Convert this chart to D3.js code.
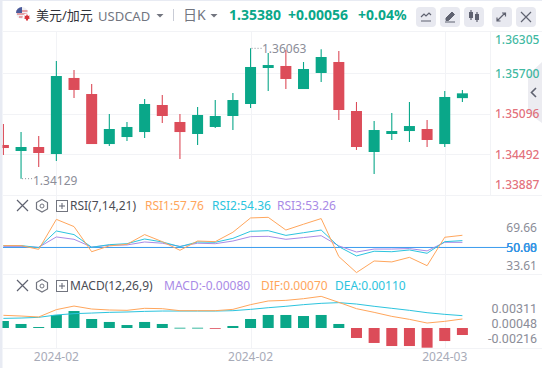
<!DOCTYPE html>
<html>
<head>
<meta charset="utf-8">
<script src="https://cdn.jsdelivr.net/npm/d3@7"></script>
<style>
html, body { margin: 0; padding: 0; background: #fff; overflow: hidden; }
text { font-family: "Noto Sans", "Noto Sans CJK SC", sans-serif; }
.grid { stroke: #f2f3f6; stroke-width: 1; shape-rendering: crispEdges; }
</style>
</head>
<body>
<script>
const opens = [1.34629,1.34540,1.34599,1.34495,1.35623,1.35385,1.34643,1.34747,1.34821,1.35222,1.34970,1.34792,1.34896,1.35059,1.35237,1.35771,1.35801,1.35459,1.35697,1.35860,1.35133,1.34525,1.34792,1.34836,1.34866,1.34643,1.35324];
const closes = [1.34584,1.34599,1.34510,1.35652,1.35445,1.34643,1.34866,1.34896,1.35237,1.35059,1.34821,1.35074,1.35059,1.35296,1.35786,1.35815,1.35608,1.35756,1.35934,1.35148,1.34599,1.34851,1.34836,1.34910,1.34703,1.35341,1.35395];
const highs = [1.34940,1.34821,1.34762,1.35875,1.35741,1.35534,1.35089,1.34970,1.35311,1.35370,1.35089,1.35192,1.35296,1.35400,1.36063,1.35993,1.36038,1.35860,1.36050,1.36023,1.35267,1.34985,1.35103,1.35267,1.35000,1.35430,1.35445];
const lows = [1.34480,1.34129,1.34302,1.34391,1.35326,1.34643,1.34614,1.34688,1.34732,1.34955,1.34421,1.34629,1.34881,1.34851,1.35178,1.35430,1.35459,1.35459,1.35563,1.35000,1.34555,1.34198,1.34703,1.34673,1.34599,1.34599,1.35267];

const rsi1 = [51.2,51.2,48.8,67.9,63.3,47.3,51.0,52.0,58.2,53.7,48.2,54.1,53.7,59.7,68.8,69.2,61.1,64.8,68.4,44.2,34.0,41.4,40.8,43.7,38.4,56.5,57.76];
const rsi2 = [51.2,51.2,49.9,60.5,58.2,50.1,51.8,52.4,55.4,53.5,50.5,53.5,53.3,55.8,60.3,60.7,57.7,59.4,61.1,50.5,44.6,47.6,47.3,48.4,46.3,53.7,54.36];
const rsi3 = [50.7,50.7,50.1,56.7,55.2,50.3,51.4,51.6,53.5,52.7,50.7,52.7,52.4,54.1,56.9,57.1,55.2,56.3,57.5,51.0,47.1,49.0,49.0,49.3,47.8,53.3,53.26];

const macdBars = [0.00080,0.00046,0.00011,0.00149,0.00194,0.00103,0.00069,0.00034,0.00069,0.00046,0.00003,0.00003,-0.00003,0.00023,0.00103,0.00149,0.00149,0.00137,0.00149,0.00046,-0.00114,-0.00171,-0.00206,-0.00206,-0.00225,-0.00149,-0.00080];
const dif = [0.00145,0.00137,0.00126,0.00210,0.00251,0.00217,0.00206,0.00202,0.00225,0.00221,0.00198,0.00198,0.00198,0.00213,0.00267,0.00309,0.00316,0.00335,0.00362,0.00293,0.00221,0.00179,0.00133,0.00099,0.00057,0.00076,0.00103];
const dea = [0.00110,0.00114,0.00122,0.00149,0.00164,0.00171,0.00179,0.00183,0.00190,0.00194,0.00194,0.00194,0.00194,0.00198,0.00213,0.00232,0.00248,0.00267,0.00282,0.00290,0.00274,0.00248,0.00225,0.00202,0.00175,0.00156,0.00141];

const priceTicks = [1.36305,1.35700,1.35096,1.34492,1.33887];
const rsiTicks = [69.66,50.00,33.61];
const macdTicks = [0.00311,0.00048,-0.00216];
const dateIndex = [3,14,25];
const dateLabels = ['2024-02','2024-02','2024-03'];

const up = '#0aa789', down = '#dc4c59';
const orange = '#ffa65c', cyan = '#2cc4de', purple = '#a98ae6';
const width = 542, height = 368;

let svg = d3.select('body').append('svg')
    .attr('width', width).attr('height', height)
    .style('display', 'block');

const idx = d3.range(opens.length);
const x = d3.scaleLinear().domain([0, 26]).range([3.4, 462.4]);
const y = d3.scaleLinear().domain([1.33887, 1.36305]).range([195, 32]);
const yRsi = d3.scaleLinear().domain([33.61, 69.66]).range([273.2, 216.6]);
const yMacd = d3.scaleLinear().domain([-0.00216, 0.00311]).range([346.9, 300.8]);

let icon = (d, w) => svg.append('path').attr('d', d).attr('fill', 'none').attr('stroke', '#5f6270').attr('stroke-width', w || 1.2);

// side tab, sits under the price labels
svg.append('path').attr('d', 'M542 62L528 75V113L542 123z').attr('fill', '#ececf1');
icon('M536 88l-4.5 4.5 4.5 4.5', 1.6);

// grid
let grid = svg.append('g');
[31.5, 195.5, 274.5, 348.5].forEach(v => {
    grid.append('line').attr('class', 'grid').attr('x1', 3).attr('x2', width).attr('y1', v).attr('y2', v);
});
priceTicks.slice(1, 4).forEach(v => {
    grid.append('line').attr('class', 'grid').attr('x1', 3).attr('x2', 490)
        .attr('y1', Math.round(y(v)) + 0.5).attr('y2', Math.round(y(v)) + 0.5);
});
dateIndex.forEach(i => {
    grid.append('line').attr('class', 'grid').attr('x1', Math.round(x(i)) + 0.5).attr('x2', Math.round(x(i)) + 0.5)
        .attr('y1', 32).attr('y2', 348);
});
grid.append('line').attr('class', 'grid').attr('x1', 490.5).attr('x2', 490.5).attr('y1', 32).attr('y2', 195);

// candles
let candles = svg.append('g');
let color = i => closes[i] >= opens[i] ? up : down;
candles.selectAll('line').data(idx).join('line')
    .attr('x1', i => x(i)).attr('x2', i => x(i))
    .attr('y1', i => y(highs[i])).attr('y2', i => y(lows[i]))
    .attr('stroke', color).attr('stroke-width', 1.1);
candles.selectAll('rect').data(idx).join('rect')
    .attr('x', i => x(i) - 5.5).attr('width', 11)
    .attr('y', i => y(Math.max(opens[i], closes[i])))
    .attr('height', i => Math.max(1, Math.abs(y(opens[i]) - y(closes[i]))))
    .attr('fill', color);

// high / low markers
let marker = (i, v, label, tx, ty) => {
    let g = svg.append('g').attr('fill', '#8b8d98').attr('font-size', 12);
    g.append('line').attr('x1', x(i) + 1).attr('x2', x(i) + 11).attr('y1', y(v)).attr('y2', y(v))
        .attr('stroke', '#8b8d98').attr('stroke-dasharray', '1 2');
    g.append('text').attr('x', tx).attr('y', ty).attr('dominant-baseline', 'middle').text(label);
};
marker(14, highs[14], d3.format('.5f')(highs[14]), 262, 50);
marker(1, lows[1], d3.format('.5f')(lows[1]), 33, 182);

// axes, first and last label pulled in from the pane edge
let priceAxis = svg.append('g').attr('transform', 'translate(495,0)')
    .call(d3.axisRight(y).tickValues(priceTicks).tickSize(0).tickPadding(0).tickFormat(d3.format('.5f')));
priceAxis.select('.domain').remove();
priceAxis.selectAll('.tick').attr('transform', (d, i) => `translate(0,${y(d) + (i === 0 ? 8 : i === 4 ? -10 : 1)})`);
priceAxis.selectAll('text').attr('font-family', null).attr('font-size', 12)
    .attr('fill', d => d > 1.353 ? up : down)
    .attr('fill-opacity', 0.8)
    .style('font-weight', 500);

let rsiAxis = svg.append('g').attr('transform', 'translate(537,0)')
    .call(d3.axisLeft(yRsi).tickValues(rsiTicks).tickSize(0).tickPadding(0).tickFormat(d3.format('.2f')));
rsiAxis.select('.domain').remove();
rsiAxis.selectAll('.tick').attr('transform', (d, i) => `translate(0,${[228, 248, 266][i]})`);
rsiAxis.selectAll('text').attr('font-family', null).attr('font-size', 12).attr('fill', '#8b8d98');

// roboto here, the three labels sit close and need its shorter line box
let macdAxis = svg.append('g').attr('transform', 'translate(537,0)')
    .call(d3.axisLeft(yMacd).tickValues(macdTicks).tickSize(0).tickPadding(0).tickFormat(d3.format('.5f')));
macdAxis.select('.domain').remove();
macdAxis.selectAll('.tick').attr('transform', (d, i) => `translate(0,${[309, 324, 339][i]})`);
macdAxis.selectAll('text').attr('font-family', null).attr('font-size', 12.5).attr('fill', '#8b8d98')
    .style('font-family', 'Roboto, sans-serif');
macdAxis.selectAll('text').text(d => d3.format('.5f')(d).replace('−', '-'));

// rsi pane
svg.append('line').attr('x1', 3).attr('x2', 508).attr('y1', yRsi(50)).attr('y2', yRsi(50))
    .attr('stroke', '#3a9bee').attr('stroke-width', 1);
['50.00', '50.68'].forEach(t => {
    svg.append('text').attr('x', 537).attr('y', 248).attr('text-anchor', 'end')
        .attr('dy', '0.32em').attr('font-size', 12).attr('fill', '#2e95ea').text(t);
});
let rsiLine = d3.line().x((d, i) => x(i)).y(d => yRsi(d));
[[rsi3, purple], [rsi2, cyan], [rsi1, orange]].forEach(s => {
    svg.append('path').datum(s[0]).attr('d', rsiLine).attr('fill', 'none')
        .attr('stroke', s[1]).attr('stroke-width', 1);
});

// macd pane
svg.append('g').selectAll('rect').data(macdBars).join('rect')
    .attr('x', (d, i) => x(i) - 5.5).attr('width', 11)
    .attr('y', d => yMacd(Math.max(0, d)))
    .attr('height', d => Math.max(0.8, Math.abs(yMacd(d) - yMacd(0))))
    .attr('fill', d => d >= 0 ? up : down);
let macdLine = d3.line().x((d, i) => x(i)).y(d => yMacd(d));
[[dea, cyan], [dif, orange]].forEach(s => {
    svg.append('path').datum(s[0]).attr('d', macdLine).attr('fill', 'none')
        .attr('stroke', s[1]).attr('stroke-width', 1);
});

// date axis
svg.append('g').selectAll('text').data(dateIndex).join('text')
    .attr('x', i => x(i)).attr('y', 357).attr('text-anchor', 'middle').attr('dy', '0.32em')
    .attr('font-size', 12).attr('fill', '#a8abb8')
    .text((d, i) => dateLabels[i]);

// page edge, covers the first candle's cut side
svg.append('rect').attr('width', 2.5).attr('height', height).attr('fill', '#e8ebf3');
svg.append('rect').attr('width', width).attr('height', 1).attr('fill', '#e8ebf3');

// header
let label = (tx, ty, t, size, fill, weight) => svg.append('text')
    .attr('x', tx).attr('y', ty).attr('dy', '0.35em')
    .attr('font-size', size).attr('fill', fill).attr('font-weight', weight || 400).text(t);

// flag
let flag = svg.append('g');
flag.append('circle').attr('cx', 22).attr('cy', 13).attr('r', 6).attr('fill', '#f0f0f3');
flag.append('path').attr('d', 'M16.5 11h11M17 14h10M19 17h6').attr('stroke', '#d8505a').attr('stroke-width', 1.2);
flag.append('path').attr('d', 'M16 13a6 6 0 0 1 6-6v6z').attr('fill', '#4a5a9a');
flag.append('circle').attr('cx', 27).attr('cy', 18).attr('r', 4.6).attr('fill', '#fff');
flag.append('path').attr('d', 'M27 14l1 2 1.6-.5-.6 2 1.4.6-2.4 1.2v1.2h-2v-1.2l-2.4-1.2 1.4-.6-.6-2 1.6.5z').attr('fill', '#d8323a');

label(36, 15, '美元/加元', 13, '#30323a');
label(98, 16, 'USDCAD', 13, '#72757f');
let caret = cx => svg.append('path').attr('d', `M${cx - 3.5} 14h7l-3.5 3.5z`).attr('fill', '#72757f');
caret(160);
svg.append('line').attr('x1', 173.5).attr('x2', 173.5).attr('y1', 9).attr('y2', 21).attr('stroke', '#c9ccd6');
label(183, 15, '日K', 14, '#72757f');
caret(214);
label(229, 15, '1.35380', 14, up, 700);
label(288, 15, '+0.00056', 14, up, 700);
label(358, 15, '+0.04%', 14, up, 700);

// toolbar buttons
[416, 440, 464, 492, 516].forEach(bx => {
    svg.append('rect').attr('x', bx).attr('y', 7).attr('width', 20).attr('height', 20).attr('rx', 4).attr('fill', '#e8e9f0');
});
icon('M421 21h10M421 17l3-3 2 2 3-3 2 2');
svg.append('path').attr('d', 'M446 18l6-6 2.5 2.5-6 6h-2.5zM445 22h10').attr('fill', '#5f6270').attr('stroke', '#5f6270');
svg.append('path').attr('d', 'M469 12h4v6h-4zM475 14h4v6h-4z').attr('fill', '#5f6270');
icon('M471 10v10M477 12v10');
icon('M497 21l8-8M502 13h3.5v3.5M500.5 21H497v-3.5');
icon('M521 12l10 10M531 12l-10 10');

// pane titles
let paneHead = (cy, name) => {
    icon(`M17 ${cy - 6}l11 11M28 ${cy - 6}l-11 11`);
    svg.append('path').attr('d', `M42 ${cy - 6.5}l5.5 3v6.5l-5.5 3l-5.5-3v-6.5z`).attr('fill', 'none').attr('stroke', '#72757f').attr('stroke-width', 1.2);
    svg.append('circle').attr('cx', 42).attr('cy', cy).attr('r', 2).attr('fill', 'none').attr('stroke', '#72757f');
    svg.append('rect').attr('x', 56.5).attr('y', cy - 5.5).attr('width', 11).attr('height', 11).attr('fill', 'none').attr('stroke', '#72757f');
    icon(`M59 ${cy}h6M62 ${cy - 3}v6`, 1);
    label(70, cy, name, 12, '#4a4c55');
};
paneHead(206, 'RSI(7,14,21)');
label(145, 206, 'RSI1:57.76', 12, orange);
label(212, 206, 'RSI2:54.36', 12, cyan);
label(277, 206, 'RSI3:53.26', 12, purple);
paneHead(286, 'MACD(12,26,9)');
label(164, 286, 'MACD:-0.00080', 12, purple);
label(261, 286, 'DIF:0.00070', 12, orange);
label(335, 286, 'DEA:0.00110', 12, cyan);
</script>
</body>
</html>
